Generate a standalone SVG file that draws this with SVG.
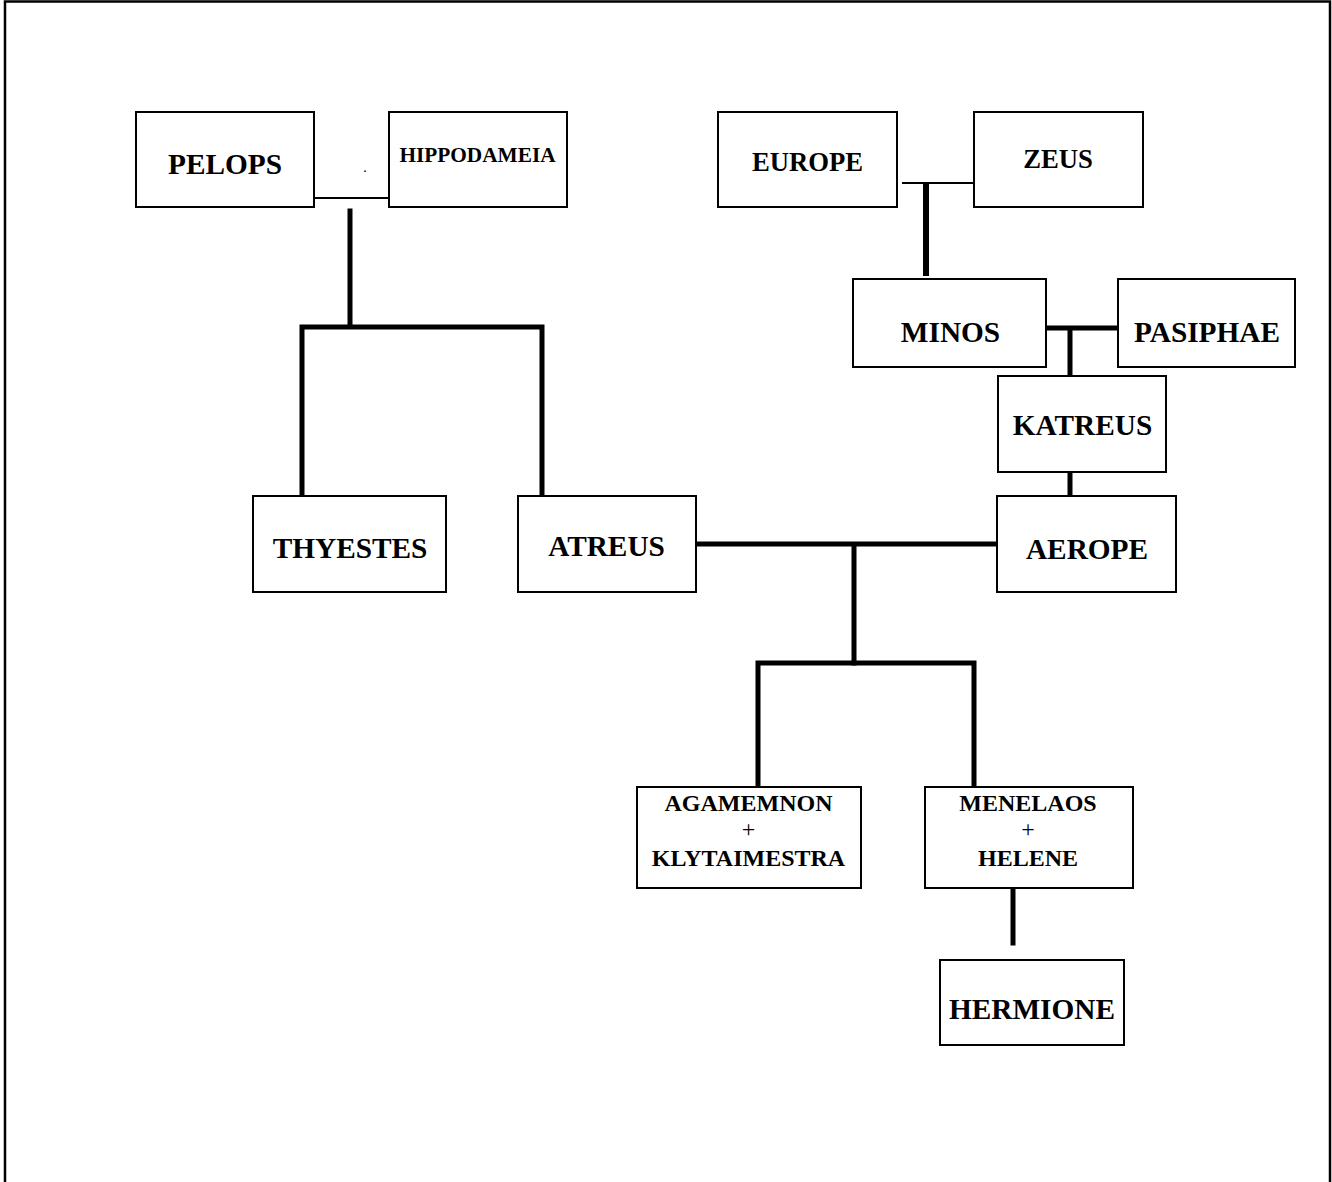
<svg xmlns="http://www.w3.org/2000/svg" width="1332" height="1182" viewBox="0 0 1332 1182">
  <style>
    .box { fill: #ffffff; stroke: #000000; stroke-width: 2; }
    .lbl { font-family: "Liberation Serif", "Times New Roman", serif; font-weight: bold; fill: #000000; text-anchor: middle; }
    .big { font-size: 29.3px; }
    .mid { font-size: 26.7px; }
    .sm { font-size: 21.3px; }
    .pair { font-size: 24px; }
    .thin { fill: none; stroke: #000000; stroke-width: 2; }
    .thick { fill: none; stroke: #000000; stroke-width: 5; stroke-linecap: square; }
  </style>

  <rect width="1332" height="1182" fill="#ffffff"/>
  <!-- page frame, open at the bottom -->
  <path d="M5,1184 V1.5 H1330 V1184" fill="none" stroke="#000000" stroke-width="2.5"/>

  <g id="connectors">
    <!-- Pelops + Hippodameia -->
    <path class="thin" d="M314,198 H389"/>
    <path class="thick" d="M350,211 V323"/>
    <path class="thick" d="M302,327 H542 M302,327 V494 M542,327 V494"/>
    <!-- Europe + Zeus -->
    <path class="thin" d="M902,183 H978"/>
    <path class="thick" d="M926,185 V273" style="stroke-width:6"/>
    <!-- Minos + Pasiphae -->
    <path class="thick" d="M1048,328 H1116 M1070,328 V374"/>
    <path class="thick" d="M1070,474 V494"/>
    <!-- Atreus + Aerope -->
    <path class="thick" d="M698,544 H996 M854,544 V663"/>
    <path class="thick" d="M758,663 H974 M758,663 V785 M974,663 V785"/>
    <!-- Menelaos + Helene -->
    <path class="thick" d="M1013,890 V943"/>
  </g>

  <g id="pelops">
    <rect class="box" x="136" y="112" width="178" height="95"/>
    <text class="lbl big" x="225" y="174">PELOPS</text>
  </g>
  <g id="hippodameia">
    <rect class="box" x="389" y="112" width="178" height="95"/>
    <text class="lbl sm" x="477.5" y="162">HIPPODAMEIA</text>
  </g>
  <text class="lbl" x="365" y="172" style="font-size:14px;font-weight:normal">.</text>

  <g id="europe">
    <rect class="box" x="718" y="112" width="179" height="95"/>
    <text class="lbl mid" x="807.5" y="171">EUROPE</text>
  </g>
  <g id="zeus">
    <rect class="box" x="974" y="112" width="169" height="95"/>
    <text class="lbl mid" x="1058" y="168">ZEUS</text>
  </g>

  <g id="minos">
    <rect class="box" x="853" y="279" width="193" height="88"/>
    <text class="lbl big" x="950.5" y="342">MINOS</text>
  </g>
  <g id="pasiphae">
    <rect class="box" x="1118" y="279" width="177" height="88"/>
    <text class="lbl big" x="1207" y="342">PASIPHAE</text>
  </g>

  <g id="katreus">
    <rect class="box" x="998" y="376" width="168" height="96"/>
    <text class="lbl big" x="1082.5" y="435">KATREUS</text>
  </g>

  <g id="thyestes">
    <rect class="box" x="253" y="496" width="193" height="96"/>
    <text class="lbl big" x="350" y="558">THYESTES</text>
  </g>
  <g id="atreus">
    <rect class="box" x="518" y="496" width="178" height="96"/>
    <text class="lbl big" x="606.5" y="556">ATREUS</text>
  </g>
  <g id="aerope">
    <rect class="box" x="997" y="496" width="179" height="96"/>
    <text class="lbl big" x="1087" y="559">AEROPE</text>
  </g>

  <g id="agamemnon">
    <rect class="box" x="637" y="787" width="224" height="101"/>
    <text class="lbl pair" x="748.5" y="811">AGAMEMNON</text>
    <text class="lbl pair" x="748.5" y="837" style="font-weight:normal">+</text>
    <text class="lbl pair" x="748.5" y="866">KLYTAIMESTRA</text>
  </g>
  <g id="menelaos">
    <rect class="box" x="925" y="787" width="208" height="101"/>
    <text class="lbl pair" x="1028" y="811">MENELAOS</text>
    <text class="lbl pair" x="1028" y="837" style="font-weight:normal">+</text>
    <text class="lbl pair" x="1028" y="866">HELENE</text>
  </g>

  <g id="hermione">
    <rect class="box" x="940" y="960" width="184" height="85"/>
    <text class="lbl big" x="1032" y="1019">HERMIONE</text>
  </g>
</svg>
